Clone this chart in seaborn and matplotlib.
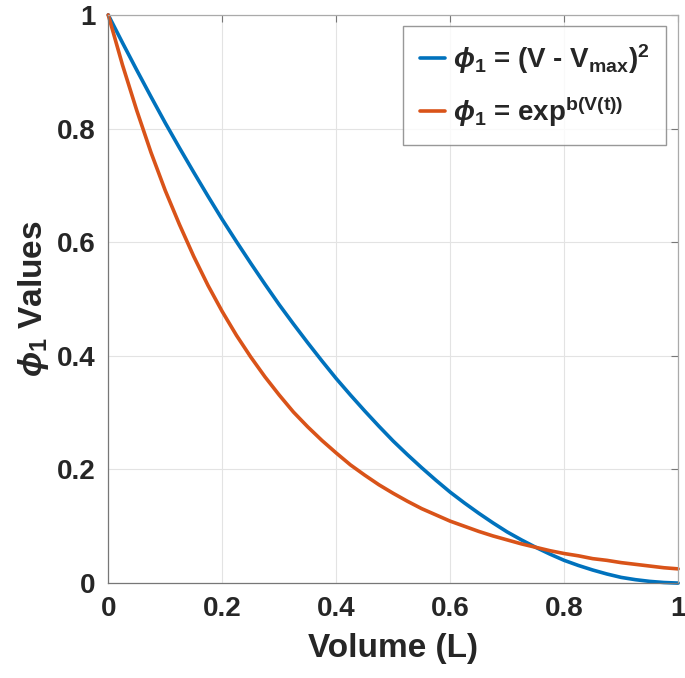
import matplotlib
matplotlib.use("Agg")
import matplotlib.pyplot as plt
import seaborn as sns
import pandas as pd

volume = [0.000, 0.025, 0.050, 0.075, 0.100, 0.125, 0.150, 0.175, 0.200, 0.225,
          0.250, 0.275, 0.300, 0.325, 0.350, 0.375, 0.400, 0.425, 0.450, 0.475,
          0.500, 0.525, 0.550, 0.575, 0.600, 0.625, 0.650, 0.675, 0.700, 0.725,
          0.750, 0.775, 0.800, 0.825, 0.850, 0.875, 0.900, 0.925, 0.950, 0.975, 1.000]
phi_quad = [1.000, 0.951, 0.903, 0.856, 0.810, 0.766, 0.723, 0.681, 0.640, 0.601,
            0.563, 0.526, 0.490, 0.456, 0.423, 0.391, 0.360, 0.331, 0.303, 0.276,
            0.250, 0.226, 0.203, 0.181, 0.160, 0.141, 0.123, 0.106, 0.090, 0.076,
            0.063, 0.051, 0.040, 0.031, 0.023, 0.016, 0.010, 0.006, 0.003, 0.001, 0.000]
phi_exp = [1.000, 0.912, 0.832, 0.758, 0.691, 0.631, 0.575, 0.524, 0.478, 0.436,
           0.398, 0.363, 0.331, 0.301, 0.275, 0.251, 0.229, 0.208, 0.190, 0.173,
           0.158, 0.144, 0.131, 0.120, 0.109, 0.100, 0.091, 0.083, 0.076, 0.069,
           0.063, 0.057, 0.052, 0.048, 0.043, 0.040, 0.036, 0.033, 0.030, 0.027, 0.025]
labels = [r'$\phi_{\mathbf{1}}$ = (V - V$_{\mathbf{max}}$)$^{\mathbf{2}}$',
          r'$\phi_{\mathbf{1}}$ = exp$^{\mathbf{b(V(t))}}$']
colors = ['#0072BD', '#D95319']
xticks = [0, 0.2, 0.4, 0.6, 0.8, 1]
xticklabels = ['0', '0.2', '0.4', '0.6', '0.8', '1']
yticks = [0, 0.2, 0.4, 0.6, 0.8, 1]
yticklabels = ['0', '0.2', '0.4', '0.6', '0.8', '1']

sns.set_theme(style='white')
plt.rcParams['font.family'] = ['Liberation Sans', 'DejaVu Sans']
plt.rcParams['font.weight'] = 'bold'
plt.rcParams['mathtext.fontset'] = 'custom'
plt.rcParams['mathtext.rm'] = 'Liberation Sans:bold'
plt.rcParams['mathtext.bf'] = 'Liberation Sans:bold'
plt.rcParams['mathtext.it'] = 'Liberation Sans:italic'

df = pd.DataFrame({
    'Volume': volume * 2,
    'phi': phi_quad + phi_exp,
    'series': [labels[0]] * len(volume) + [labels[1]] * len(volume),
})

fig = plt.figure(figsize=(6.85, 6.78), dpi=100)
ax = fig.add_axes([0.158, 0.140, 0.832, 0.838])
sns.lineplot(data=df, x='Volume', y='phi', hue='series', palette=colors,
             linewidth=2.6, ax=ax, sort=False, clip_on=False)

ax.set_xlim(0, 1)
ax.set_ylim(0, 1)
ax.set_xticks(xticks)
ax.set_xticklabels(xticklabels)
ax.set_yticks(yticks)
ax.set_yticklabels(yticklabels)
ax.tick_params(axis='both', labelsize=20, direction='in', length=5, width=0.8,
               colors='#262626', pad=9, top=True, right=True)
ax.tick_params(axis='both', which='both', color='#777777')
for t in ax.get_xticklabels() + ax.get_yticklabels():
    t.set_fontweight('bold')
ax.grid(True, color='#e3e3e3', linewidth=0.8)
for s in ['top', 'right']:
    ax.spines[s].set_color('#aaaaaa')
    ax.spines[s].set_linewidth(0.9)
for s in ['left', 'bottom']:
    ax.spines[s].set_color('#777777')
    ax.spines[s].set_linewidth(0.9)

ax.set_xlabel('Volume (L)', fontsize=24, fontweight='bold', labelpad=8)
ax.set_ylabel(r'$\phi_{\mathbf{1}}$ Values', fontsize=24, fontweight='bold', labelpad=4)

leg = ax.legend(loc='upper right', fontsize=20, frameon=True, fancybox=False,
                handlelength=0.9, handletextpad=0.3, borderpad=0.6,
                labelspacing=0.65, borderaxespad=0.0,
                bbox_to_anchor=(0.979, 0.981))
leg.get_frame().set_edgecolor('#7f7f7f')
leg.get_frame().set_linewidth(1.0)
for t in leg.get_texts():
    t.set_fontweight('bold')

fig.savefig('out.png', dpi=100)
